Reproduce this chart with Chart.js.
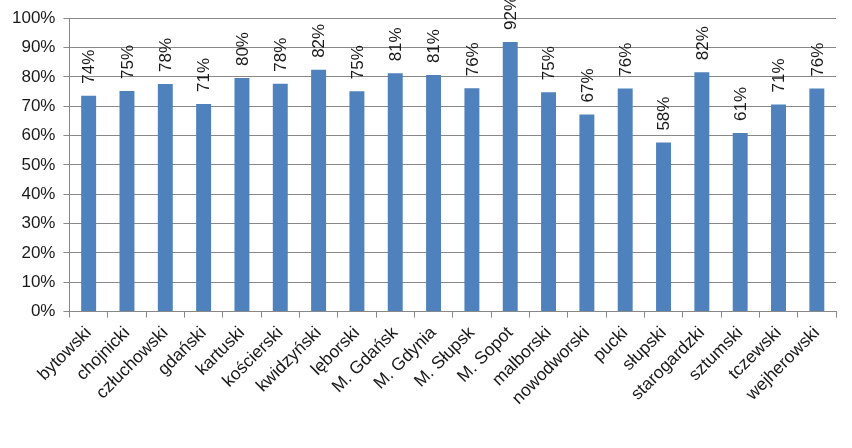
<!DOCTYPE html>
<html>
<head>
<meta charset="utf-8">
<script src="https://cdn.jsdelivr.net/npm/chart.js@4/dist/chart.umd.min.js"></script>
<style>
  html, body { margin: 0; padding: 0; background: #fff; }
  #wrap { width: 852px; height: 448px; }
</style>
</head>
<body>
<div id="wrap"><canvas id="myCanvas"></canvas></div>
<script>
var labels = ["bytowski", "chojnicki", "człuchowski", "gdański", "kartuski", "kościerski", "kwidzyński", "lęborski", "M. Gdańsk", "M. Gdynia",
  "M. Słupsk", "M. Sopot", "malborski", "nowodworski", "pucki", "słupski", "starogardzki", "sztumski", "tczewski", "wejherowski"];
var values = [73.6, 75.2, 77.6, 70.8, 79.6, 77.7, 82.4, 75.1, 81.2, 80.6,
  76.1, 91.9, 74.8, 67.2, 76.0, 57.6, 81.6, 60.9, 70.6, 76.0];
var yTicks = [0, 10, 20, 30, 40, 50, 60, 70, 80, 90, 100];

Chart.defaults.font.family = "'Liberation Sans', Arial, sans-serif";
Chart.defaults.font.size = 17;
Chart.defaults.color = "#1a1a1a";

// vertical value labels above bars
var barLabels = {
  id: 'barLabels',
  afterDatasetsDraw: function (chart) {
    var ctx = chart.ctx;
    var meta = chart.getDatasetMeta(0);
    ctx.save();
    ctx.font = "17px 'Liberation Sans', Arial, sans-serif";
    ctx.fillStyle = "#1a1a1a";
    meta.data.forEach(function (bar, i) {
      ctx.save();
      ctx.translate(bar.x, bar.y - 12);
      ctx.rotate(-Math.PI / 2);
      ctx.textAlign = 'left';
      ctx.textBaseline = 'middle';
      ctx.fillText(Math.round(values[i]) + '%', 0, 1);
      ctx.restore();
    });
    ctx.restore();
  }
};

let myChart = document.getElementById("myCanvas").getContext('2d');
let barChart = new Chart(myChart, {
  type: 'bar',
  data: {
    labels: labels,
    datasets: [{
      data: values,
      backgroundColor: '#4F81BD',
      barPercentage: 0.39,
      categoryPercentage: 1.0
    }]
  },
  options: {
    responsive: true,
    maintainAspectRatio: false,
    animation: false,
    layout: { padding: { left: 4, right: 16, top: 10, bottom: 34 } },
    plugins: { legend: { display: false }, tooltip: { enabled: false } },
    scales: {
      x: {
        grid: { offset: true, drawOnChartArea: false, drawTicks: true, tickLength: 6, color: '#888' },
        border: { color: '#888' },
        ticks: { minRotation: 45, maxRotation: 45, autoSkip: false, padding: 5, font: { size: 17.5 } }
      },
      y: {
        min: 0,
        max: 100,
        afterBuildTicks: function (axis) {
          axis.ticks = yTicks.map(function (v) { return { value: v }; });
        },
        grid: { color: '#888', tickLength: 6 },
        border: { color: '#888' },
        ticks: { padding: 8, callback: function (v) { return v + '%'; } }
      }
    }
  },
  plugins: [barLabels]
});
</script>
</body>
</html>
